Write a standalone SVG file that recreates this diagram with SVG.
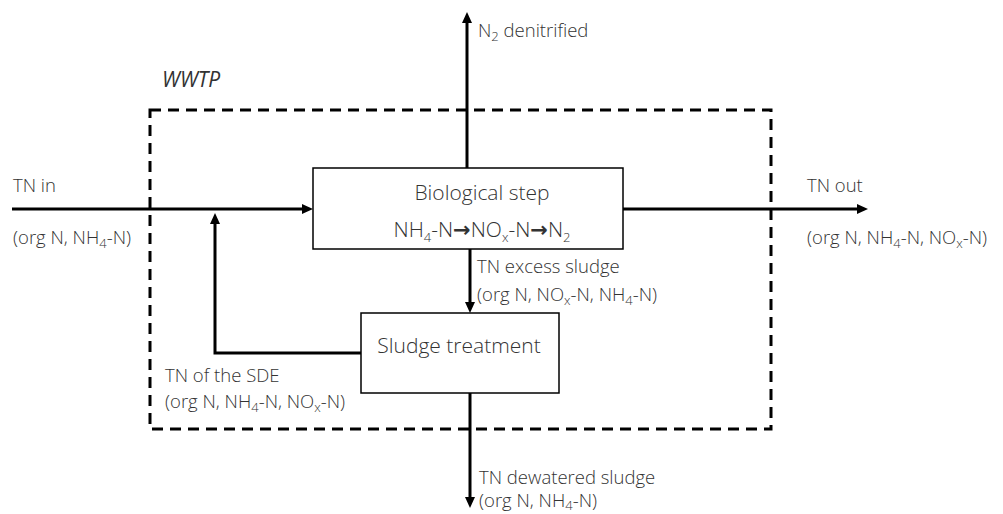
<svg xmlns="http://www.w3.org/2000/svg" width="1003" height="514" viewBox="0 0 1003 514">
<style>
text{font-family:"Open Sans","Liberation Sans",sans-serif;fill:#333;font-weight:300}
.lbl{font-size:18.5px}
.box{font-size:21px}
.sub{font-size:13px}
.node{fill:#fff;stroke:#000;stroke-width:1.5}
.con{fill:none;stroke:#000;stroke-width:3}
.dash{fill:none;stroke:#000;stroke-width:3;stroke-dasharray:11 7}
.arr{font-family:"DejaVu Sans",sans-serif;font-weight:bold}
</style>
<defs>
<marker id="ah" markerUnits="userSpaceOnUse" markerWidth="12" markerHeight="12" refX="0" refY="0" viewBox="0 -6 12 12" orient="auto" overflow="visible">
<path d="M0,-5 L11,0 L0,5 z" fill="#000"/>
</marker>
</defs>
<rect width="1003" height="514" fill="#fff"/>
<g id="wwtp">
<rect class="dash" x="150" y="110" width="621" height="319"/>
<text x="162" y="87" style="font-style:italic;font-size:21px;font-weight:400">WWTP</text>
</g>
<g id="connectors">
<line class="con" x1="12" y1="209" x2="302" y2="209" marker-end="url(#ah)"/>
<line class="con" x1="623" y1="209" x2="857" y2="209" marker-end="url(#ah)"/>
<line class="con" x1="467" y1="168" x2="467" y2="23" marker-end="url(#ah)"/>
<line class="con" x1="470" y1="249" x2="470" y2="302" marker-end="url(#ah)"/>
<line class="con" x1="470" y1="393" x2="470" y2="497" marker-end="url(#ah)"/>
<polyline class="con" points="361,353 215,353 215,224" marker-end="url(#ah)"/>
</g>
<g id="bio">
<rect class="node" x="313" y="168" width="310" height="81"/>
<text class="box" x="482" y="200" text-anchor="middle">Biological step</text>
<text class="box" x="482" y="237" text-anchor="middle">NH<tspan class="sub" dy="5">4</tspan><tspan dy="-5">-N</tspan><tspan class="arr">→</tspan>NO<tspan class="sub" dy="5">x</tspan><tspan dy="-5">-N</tspan><tspan class="arr">→</tspan>N<tspan class="sub" dy="5">2</tspan></text>
</g>
<g id="sludge">
<rect class="node" x="361" y="313" width="198" height="80"/>
<text class="box" x="459" y="353" text-anchor="middle">Sludge treatment</text>
</g>
<g id="labels">
<text class="lbl" x="13" y="192">TN in</text>
<text class="lbl" x="13" y="244">(org N, NH<tspan class="sub" dy="4">4</tspan><tspan dy="-4">-N)</tspan></text>
<text class="lbl" x="807" y="192">TN out</text>
<text class="lbl" x="807" y="244">(org N, NH<tspan class="sub" dy="4">4</tspan><tspan dy="-4">-N, NO</tspan><tspan class="sub" dy="4">x</tspan><tspan dy="-4">-N)</tspan></text>
<text class="lbl" x="478" y="37">N<tspan class="sub" dy="4">2</tspan><tspan dy="-4"> denitrified</tspan></text>
<text class="lbl" x="477" y="273">TN excess sludge</text>
<text class="lbl" x="477" y="301">(org N, NO<tspan class="sub" dy="4">x</tspan><tspan dy="-4">-N, NH</tspan><tspan class="sub" dy="4">4</tspan><tspan dy="-4">-N)</tspan></text>
<text class="lbl" x="165" y="382">TN of the SDE</text>
<text class="lbl" x="165" y="408">(org N, NH<tspan class="sub" dy="4">4</tspan><tspan dy="-4">-N, NO</tspan><tspan class="sub" dy="4">x</tspan><tspan dy="-4">-N)</tspan></text>
<text class="lbl" x="479" y="484">TN dewatered sludge</text>
<text class="lbl" x="479" y="507">(org N, NH<tspan class="sub" dy="3">4</tspan><tspan dy="-3">-N)</tspan></text>
</g>
</svg>
